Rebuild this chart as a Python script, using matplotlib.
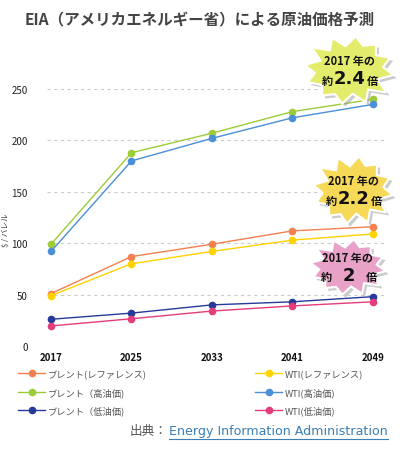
import matplotlib
matplotlib.use('Agg')
import matplotlib.pyplot as plt
import numpy as np
from matplotlib.patches import Polygon
from matplotlib.lines import Line2D

plt.rcParams['font.family'] = ['Noto Sans CJK JP', 'DejaVu Sans']

years = [2017, 2025, 2033, 2041, 2049]
brent_ref = [51, 87, 99, 112, 116]
brent_high = [99, 188, 207, 228, 240]
brent_low = [26, 32, 40, 43, 48]
wti_ref = [49, 80, 92, 103, 109]
wti_high = [92, 180, 202, 222, 235]
wti_low = [19.5, 26.5, 34, 39, 43]

series = [
    ('ブレント(レファレンス)', brent_ref, '#f3804f'),
    ('ブレント（高油価)', brent_high, '#9dcc36'),
    ('ブレント（低油価)', brent_low, '#253a9a'),
    ('WTI(レファレンス)', wti_ref, '#ffd200'),
    ('WTI(高油価)', wti_high, '#4b8fd6'),
    ('WTI(低油価)', wti_low, '#e33d7b'),
]

W, H = 400, 452
fig = plt.figure(figsize=(4, 4.52), dpi=100)
ax = fig.add_axes([47/W, 1-347/H, 340/W, 257/H])

for name, vals, col in series:
    ax.plot(years, vals, color=col, lw=1.0, marker='o', ms=4.5, label=name, clip_on=False)

ax.set_xlim(2016.6, 2050.4)
ax.set_ylim(0, 250)
ax.set_xticks(years)
ax.set_yticks([0, 50, 100, 150, 200, 250])
ax.grid(axis='y', ls=(0, (3, 3)), color='#cccccc', lw=0.8)
ax.set_axisbelow(True)
for s in ax.spines.values():
    s.set_visible(False)
ax.tick_params(length=0, labelsize=7, colors='#222222')
ax.tick_params(axis='y', pad=14)
ax.tick_params(axis='x', pad=4)
for t in ax.get_xticklabels():
    t.set_fontweight('bold')
    t.set_color('#111111')

fig.text(6/W, 1-230/H, '$ / バレル', rotation=90, fontsize=5.5, color='#333333',
         ha='center', va='center')

fig.text(200/W, 1-20/H, 'EIA（アメリカエネルギー省）による原油価格予測', fontsize=11.2,
         fontweight='bold', color='#444444', ha='center', va='center')

leg = fig.legend(loc='upper left', bbox_to_anchor=(10/W, 1-362/H), ncol=2, frameon=False,
                 fontsize=6.7, handlelength=2.9, columnspacing=11.6, labelspacing=0.9,
                 handletextpad=0.3)
for t in leg.get_texts():
    t.set_color('#555555')


def burst(cx, cy, rx, ry, color, n=12):
    ang = np.linspace(0, 2*np.pi, 2*n, endpoint=False) + 0.15
    jit = np.array([1.0, 0.93, 1.06, 0.97, 1.02, 0.95, 1.0, 1.05, 0.96, 1.0, 0.98, 1.03] * 3)[:2*n]
    r = np.where(np.arange(2*n) % 2 == 0, 1.0, 0.74) * jit
    xs = cx + rx*r*np.cos(ang)
    ys = cy + ry*r*np.sin(ang)
    pts_sh = np.column_stack([(xs+3)/W, 1-(ys+3)/H])
    pts = np.column_stack([xs/W, 1-ys/H])
    fig.patches.append(Polygon(pts_sh, closed=True, transform=fig.transFigure,
                               fc='#999999', ec='none', alpha=0.5, zorder=5))
    fig.patches.append(Polygon(pts, closed=True, transform=fig.transFigure,
                               fc=color, ec='white', lw=1.5, zorder=6))


callouts = [
    (349, 71, '#e4ec6c', '2.4', 45, 34),
    (353, 191, '#f6d957', '2.2', 40, 34),
    (348, 268, '#e8a2c8', '2', 38, 28),
]
for cx, cy, col, mult, rx, ry in callouts:
    burst(cx, cy, rx, ry, col)
    fig.text(cx/W, 1-(cy-9)/H, '2017 年の', fontsize=8, fontweight='bold',
             ha='center', va='center', zorder=7, color='#111111')
    fig.text((cx-22)/W, 1-(cy+10)/H, '約', fontsize=8, fontweight='bold',
             ha='center', va='center', zorder=7, color='#111111')
    fig.text((cx+1)/W, 1-(cy+8)/H, mult, fontsize=13, fontweight='bold',
             ha='center', va='center', zorder=7, color='#111111', family='DejaVu Sans')
    fig.text((cx+23)/W, 1-(cy+10)/H, '倍', fontsize=8, fontweight='bold',
             ha='center', va='center', zorder=7, color='#111111')

src = fig.text(388/W, 1-432/H, 'Energy Information Administration', fontsize=9.1,
               color='#3a7fb5', ha='right', va='center', family='DejaVu Sans')
fig.canvas.draw()
bb = src.get_window_extent(fig.canvas.get_renderer())
fig.text(bb.x0/W - 2/W, 1-432/H, '出典：', fontsize=9.1, color='#555555', ha='right', va='center')
fig.add_artist(Line2D([bb.x0/W, bb.x1/W], [(bb.y0-1)/H, (bb.y0-1)/H],
                      transform=fig.transFigure, color='#3a7fb5', lw=0.8))

fig.savefig('out.png', dpi=100)
